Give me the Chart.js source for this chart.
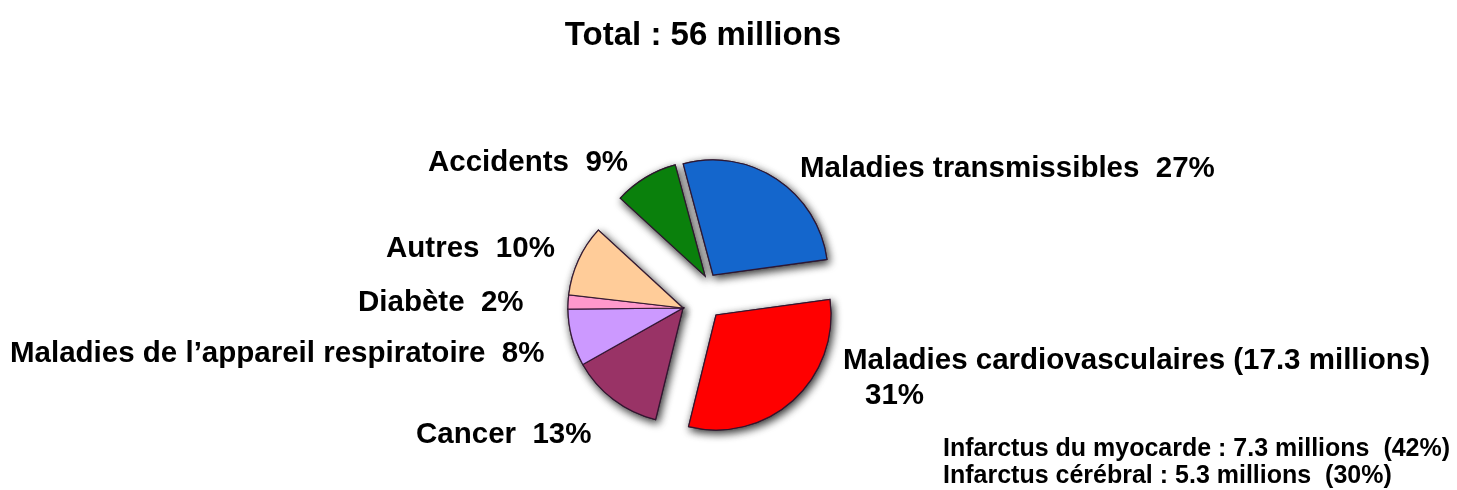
<!DOCTYPE html>
<html lang="fr">
<head>
<meta charset="utf-8">
<title>Décès dans le monde : 56 millions</title>
<script src="https://cdn.jsdelivr.net/npm/chart.js@4/dist/chart.umd.min.js"></script>
<style>
  html, body { margin: 0; padding: 0; background: #ffffff; }
  #wrap { position: relative; width: 1457px; height: 490px; }
</style>
</head>
<body>
<div id="wrap"><canvas id="pie" width="1457" height="490"></canvas></div>
<script>
// Causes of death worldwide (total 56 million)
const categories = [
  'Maladies transmissibles',
  'Maladies cardiovasculaires',
  'Cancer',
  "Maladies de l\u2019appareil respiratoire",
  'Diabète',
  'Autres',
  'Accidents'
];
const shares = [27, 31, 13, 8, 2, 10, 9];            // % of all deaths
const totalDeaths = 56;                              // millions
const cardioDeaths = 17.3;                           // millions
const cardioDetail = ['Infarctus du myocarde', 'Infarctus cérébral'];
const cardioDetailDeaths = [7.3, 5.3];               // millions
const cardioDetailShares = [42, 30];                 // % of cardiovascular deaths

// colour order follows categories
const colors = ['#1466cc', '#ff0000', '#993366', '#cc99ff', '#ff99cc', '#ffcc99', '#0a800c'];

// Pulled-out slices: per-slice shift of the wedge, in px
const explode = [[30, -33], [33, 7], [0, 0], [0, 0], [0, 0], [0, 0], [22, -32]];

const FONT = '"Liberation Sans", Arial, Helvetica, sans-serif';

// Label layout (text anchor, left aligned, baseline y)
const labelSpots = [
  { x: 800, y: 177 },   // transmissibles
  { x: 843, y: 369 },   // cardiovasculaires
  { x: 416, y: 443 },   // cancer
  { x: 10,  y: 362 },   // respiratoire
  { x: 358, y: 311 },   // diabète
  { x: 386, y: 257 },   // autres
  { x: 428, y: 171 }    // accidents
];

const explodedPie = {
  id: 'explodedPie',
  beforeDatasetDraw(chart, args) {
    const meta = chart.getDatasetMeta(args.index);
    const ctx = chart.ctx;
    // soft dark shadow pass
    meta.data.forEach((arc, i) => {
      ctx.save();
      ctx.translate(explode[i][0], explode[i][1]);
      ctx.shadowColor = 'rgba(0,0,0,0.85)';
      ctx.shadowBlur = 8;
      ctx.shadowOffsetX = 2;
      ctx.shadowOffsetY = 3;
      arc.draw(ctx, chart.chartArea);
      ctx.restore();
    });
    // clean pass on top
    meta.data.forEach((arc, i) => {
      ctx.save();
      ctx.translate(explode[i][0], explode[i][1]);
      arc.draw(ctx, chart.chartArea);
      ctx.restore();
    });
    return false;
  }
};

const pieLabels = {
  id: 'pieLabels',
  afterDraw(chart) {
    const ctx = chart.ctx;
    ctx.save();
    ctx.fillStyle = '#000000';
    ctx.textBaseline = 'alphabetic';

    ctx.font = 'bold 33px ' + FONT;
    ctx.textAlign = 'center';
    ctx.fillText('Total : ' + totalDeaths + ' millions', 703, 45);
    ctx.textAlign = 'left';

    ctx.font = 'bold 29.5px ' + FONT;
    categories.forEach((cat, i) => {
      const p = labelSpots[i];
      if (i === 1) {
        ctx.fillText(cat + ' (' + cardioDeaths + ' millions)', p.x, p.y);
        ctx.fillText(shares[i] + '%', 865, 404);
      } else {
        ctx.fillText(cat + '  ' + shares[i] + '%', p.x, p.y);
      }
    });

    ctx.font = 'bold 25px ' + FONT;
    cardioDetail.forEach((name, j) => {
      ctx.fillText(name + ' : ' + cardioDetailDeaths[j] + ' millions  (' + cardioDetailShares[j] + '%)',
                   943, 456 + j * 27);
    });
    ctx.restore();
  }
};

new Chart(document.getElementById('pie'), {
  type: 'pie',
  data: {
    labels: categories,
    datasets: [{
      data: shares,
      backgroundColor: colors,
      borderColor: 'rgba(45,20,45,0.9)',
      borderWidth: 1.2,
      borderJoinStyle: 'miter'
    }]
  },
  options: {
    responsive: false,
    animation: false,
    rotation: -15,
    radius: 115,
    layout: { padding: { left: 0, right: 91, top: 126, bottom: 0 } },
    plugins: {
      legend: { display: false },
      tooltip: { enabled: false },
      title: { display: false }
    }
  },
  plugins: [explodedPie, pieLabels]
});
</script>
</body>
</html>
